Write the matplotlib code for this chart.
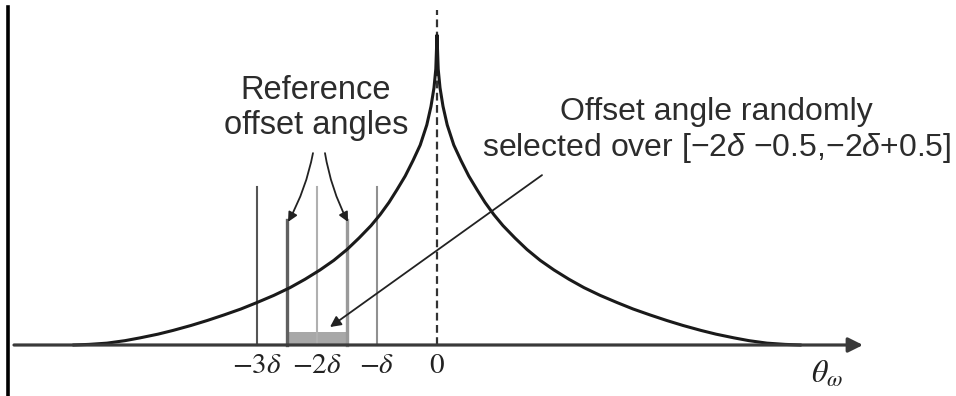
import matplotlib.pyplot as plt
from matplotlib.lines import Line2D
from matplotlib.patches import Rectangle

# offset axis in units of delta, height normalised to the peak
curve_x = [-6.05, -5.8, -5.5, -5.2, -4.95, -4.65, -4.4, -4.1, -3.83, -3.55, -3.27, -3.0,
           -2.72, -2.45, -2.2, -1.95, -1.72, -1.5, -1.3, -1.1, -0.95, -0.8,
           -0.67, -0.53, -0.4, -0.28, -0.17, -0.1, -0.05, -0.02, 0.0,
           0.02, 0.05, 0.1, 0.17, 0.28, 0.4, 0.53, 0.67, 0.8, 0.95, 1.1,
           1.3, 1.5, 1.72, 1.95, 2.2, 2.45, 2.72, 3.0, 3.27, 3.55,
           3.83, 4.1, 4.4, 4.65, 4.95, 5.2, 5.5, 5.8, 6.05]
curve_y = [0.0, 0.002, 0.006, 0.014, 0.023, 0.035, 0.047, 0.063, 0.079, 0.097, 0.116, 0.137,
           0.16, 0.185, 0.212, 0.242, 0.273, 0.308, 0.345, 0.385, 0.42, 0.46,
           0.5, 0.545, 0.595, 0.645, 0.71, 0.77, 0.83, 0.89, 1.0,
           0.89, 0.83, 0.77, 0.71, 0.645, 0.595, 0.545, 0.5, 0.46, 0.42, 0.385,
           0.345, 0.308, 0.273, 0.242, 0.212, 0.185, 0.16, 0.137, 0.116, 0.097,
           0.079, 0.063, 0.047, 0.035, 0.023, 0.014, 0.006, 0.002, 0.0]

# multiples of delta marked on the axis
delta_lines = [-3, -2, -1]
delta_colors = ['#555555', '#b0b0b0', '#909090']
tick_pos = [-3, -2, -1, 0]
tick_labels = [r'$-3\delta$', r'$-2\delta$', r'$-\delta$', r'$0$']

# reference offset angles (-2*delta -/+ 0.5)
ref_angles = [-2.5, -1.5]
ref_colors = ['#606060', '#9a9a9a']

plt.rcParams['mathtext.fontset'] = 'custom'
plt.rcParams['mathtext.rm'] = 'Liberation Sans'
plt.rcParams['mathtext.it'] = 'Liberation Sans:italic'

fig = plt.figure(figsize=(9.56, 3.96), dpi=100)
ax = fig.add_axes([0, 0, 1, 1])
ax.set_xlim(-437 / 60, (956 - 437) / 60)
ax.set_ylim(-51 / 310, 345 / 310)
ax.axis('off')

# black bar on the left edge
fig.add_artist(Line2D([7.5 / 956, 7.5 / 956], [1 / 396, 389 / 396],
                      transform=fig.transFigure, color='black', lw=2.6))

# horizontal axis with arrow
ax.annotate('', xy=(7.1, 0), xytext=(-7.05, 0),
            arrowprops=dict(arrowstyle='-|>', color='#3a3a3a', lw=2.3,
                            mutation_scale=22, shrinkA=0, shrinkB=0))

# dashed centre line
ax.plot([0, 0], [0, 1.08], color='#333333', lw=1.6, ls=(0, (3.5, 2)))

# delta marker lines
for x, c in zip(delta_lines, delta_colors):
    ax.plot([x, x], [0, 0.51], color=c, lw=1.5)

# selection window
ax.add_patch(Rectangle((ref_angles[0], 0.004), ref_angles[1] - ref_angles[0], 0.037,
                       color='#a8a8a8', lw=0))
for x, c in zip(ref_angles, ref_colors):
    ax.plot([x, x], [0, 0.403], color=c, lw=2.4)

# the distribution curve
ax.plot(curve_x, curve_y, color='#1a1a1a', lw=2.2, solid_joinstyle='round')

# tick labels
for x, lab in zip(tick_pos, tick_labels):
    ax.text(x, -0.065, lab, ha='center', va='center', fontsize=21,
            color='#222222', math_fontfamily='stix')
ax.text(6.5, -0.095, r'$\theta_{\omega}$', ha='center', va='center', fontsize=23,
        color='#222222', math_fontfamily='stix')

# annotations
ax.text(-2.02, 0.765, 'Reference\noffset angles', ha='center', va='center',
        fontsize=23.5, color='#2c2c2c', family='Liberation Sans', linespacing=1.15)
ax.annotate('', xy=(-2.483, 0.397), xytext=(-2.067, 0.619),
            arrowprops=dict(arrowstyle='-|>', color='#222222', lw=1.3,
                            mutation_scale=14, shrinkA=0, shrinkB=0,
                            connectionstyle='arc3,rad=-0.08'))
ax.annotate('', xy=(-1.483, 0.397), xytext=(-1.867, 0.619),
            arrowprops=dict(arrowstyle='-|>', color='#222222', lw=1.3,
                            mutation_scale=14, shrinkA=0, shrinkB=0,
                            connectionstyle='arc3,rad=0.08'))

ax.text(4.66, 0.69, 'Offset angle randomly\nselected over [$-2\\delta$ $-$0.5,$-2\\delta$+0.5]',
        ha='center', va='center', fontsize=23, color='#2c2c2c',
        family='Liberation Sans', linespacing=1.17, math_fontfamily='custom')
ax.annotate('', xy=(-1.783, 0.058), xytext=(1.75, 0.548),
            arrowprops=dict(arrowstyle='-|>', color='#222222', lw=1.3,
                            mutation_scale=16, shrinkA=0, shrinkB=0))

fig.savefig('out.png', dpi=100, facecolor='white')
